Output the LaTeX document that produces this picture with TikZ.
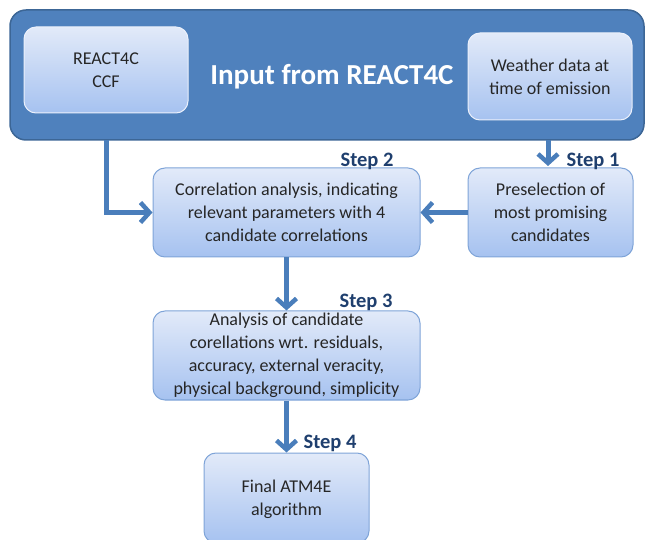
\documentclass[tikz,border=0pt]{standalone}
\usepackage{fontspec}
\setmainfont{Carlito}
\usetikzlibrary{arrows.meta}
\definecolor{panelblue}{HTML}{4F81BD}
\definecolor{paneledge}{HTML}{3C6696}
\definecolor{boxtop}{HTML}{E2EAF9}
\definecolor{boxbot}{HTML}{A6C2F0}
\definecolor{boxedge}{HTML}{7FA4D8}
\definecolor{flow}{HTML}{4A7EBB}
\definecolor{steptext}{HTML}{1F3F6E}
\definecolor{bodytext}{HTML}{262626}
\tikzset{
  stepbox/.style={rounded corners=12pt, draw=boxedge, line width=1pt,
    top color=boxtop, bottom color=boxbot, align=center,
    text=bodytext, font=\fontsize{18}{23}\selectfont,
    inner sep=0pt},
  flowarrow/.style={draw=flow, line width=5pt,
    -{Straight Barb[length=9pt,width=20pt,line width=4.5pt]}},
  steplabel/.style={font=\fontsize{20.5}{23}\selectfont\bfseries, text=steptext},
}
\begin{document}
\begin{tikzpicture}[x=1pt,y=-1pt]
\useasboundingbox (0,0) rectangle (646,540);
% input panel
\draw[rounded corners=16pt, fill=panelblue, draw=paneledge, line width=1.5pt]
  (10,10) rectangle (644,140);
\node[font=\fontsize{29}{32}\selectfont\bfseries, text=white] (title) at (332,77) {Input from REACT4C};
% input boxes
\node[stepbox, draw=boxtop!70!white, minimum width=164pt, minimum height=86pt] (ccf) at (106,70) {REACT4C\\CCF};
\node[stepbox, draw=boxtop!70!white, minimum width=164pt, minimum height=87pt] (wx) at (550,76.5) {Weather data at\\time of emission};
% process boxes
\node[stepbox, minimum width=267pt, minimum height=89pt] (s2) at (286.5,212.5) {Correlation analysis, indicating\\relevant parameters with 4\\candidate correlations};
\node[stepbox, minimum width=165pt, minimum height=89pt] (s1) at (550.5,212.5) {Preselection of\\most promising\\candidates};
\node[stepbox, minimum width=267pt, minimum height=89pt] (s3) at (286.5,355.5) {Analysis of candidate\\corellations wrt. residuals,\\accuracy, external veracity,\\physical background, simplicity};
\node[stepbox, minimum width=165pt, minimum height=90pt, text depth=0pt] (s4) at (286.5,498) {Final ATM4E\\algorithm};
% step labels
\node[steplabel] (l2) at (367,161) {Step 2};
\node[steplabel] (l1) at (593,161) {Step 1};
\node[steplabel] (l3) at (366,302) {Step 3};
\node[steplabel] (l4) at (330,443) {Step 4};
% connectors
\draw[flowarrow] (106,140) |- (s2.west);
\draw[flowarrow] (548,140) -- (548,166);
\draw[flowarrow] (s1.west) -- (s2.east);
\draw[flowarrow] (s2.south) -- (s3.north);
\draw[flowarrow] (s3.south) -- (s4.north);
\end{tikzpicture}
\end{document}
